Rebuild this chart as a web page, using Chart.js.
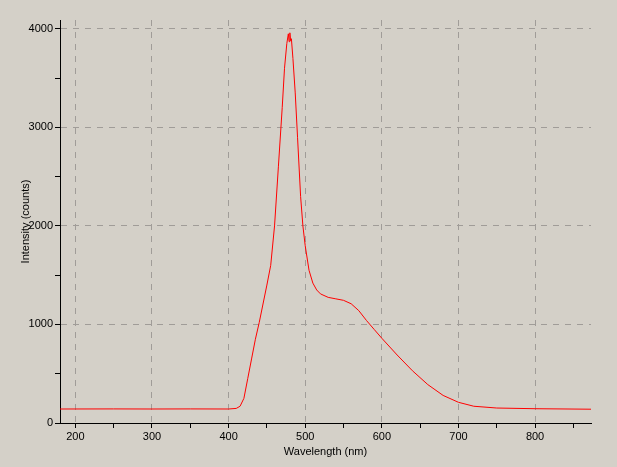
<!DOCTYPE html>
<html>
<head>
<meta charset="utf-8">
<script src="https://cdn.jsdelivr.net/npm/chart.js@4"></script>
<style>
	body { margin: 0; background: #d4d0c8; }
	canvas { display: block; }
</style>
</head>
<body>
<canvas id="c" width="617" height="467"></canvas>
<script>
const wavelengths = [180, 250, 300, 350, 400, 410, 415, 420, 425, 430, 435, 440, 450, 455, 460, 465, 470, 473, 476, 478, 479, 480, 481, 482, 484, 487, 490, 494, 497, 500, 505, 510, 515, 520, 530, 540, 550, 560, 570, 580, 590, 600, 620, 640, 660, 680, 700, 720, 750, 800, 873];
const intensity = [142, 143, 142, 143, 142, 148, 170, 250, 450, 650, 850, 1020, 1400, 1600, 2000, 2600, 3200, 3600, 3850, 3950, 3870, 3960, 3880, 3900, 3700, 3350, 2900, 2300, 2000, 1800, 1550, 1420, 1350, 1310, 1275, 1260, 1245, 1210, 1140, 1040, 950, 860, 690, 530, 390, 280, 210, 170, 152, 145, 140];

const font = { family: "Liberation Sans", size: 11 };
const gridColor = (step) => (ctx) =>
	ctx.tick && ctx.tick.value % step === 0 ? "#a09c98" : "rgba(0,0,0,0)";
// minor ticks on round multiples of the step, inside the axis range
const roundTicks = (step) => (scale) => {
	const ticks = [];
	for (let v = Math.ceil(scale.min / step) * step; v <= scale.max; v += step) ticks.push({ value: v });
	scale.ticks = ticks;
};

new Chart(document.getElementById("c"), {
	type: "line",
	data: {
		datasets: [{
			data: wavelengths.map((x, i) => ({ x, y: intensity[i] })),
			borderColor: "#ff0000",
			borderWidth: 1,
			pointRadius: 0,
			tension: 0,
		}],
	},
	options: {
		responsive: false,
		animation: false,
		layout: { padding: { top: 20, right: 26, left: 19, bottom: 8 } },
		plugins: { legend: { display: false }, tooltip: { enabled: false } },
		scales: {
			x: {
				type: "linear",
				min: 180,
				max: 873,
				afterBuildTicks: roundTicks(50),
				afterFit: (s) => { s.height = 36; },
				border: { color: "#000", width: 1, dash: [6, 6] },
				grid: { color: gridColor(100), tickColor: "#000", tickLength: 5 },
				ticks: {
					autoSkip: false,
					maxRotation: 0,
					color: "#000",
					font,
					padding: 2,
					callback: (v) => (v % 100 === 0 ? v : ""),
				},
				title: { display: true, text: "Wavelength (nm)", color: "#000", font, padding: { top: 0, bottom: 0 } },
			},
			y: {
				min: 0,
				max: 4090,
				afterBuildTicks: roundTicks(500),
				afterFit: (s) => { s.width = 41; },
				border: { color: "#000", width: 1, dash: [6, 6] },
				grid: { color: gridColor(1000), tickColor: "#000", tickLength: 5 },
				ticks: {
					autoSkip: false,
					color: "#000",
					font,
					padding: 2,
					callback: (v) => (v % 1000 === 0 ? v : ""),
				},
				title: { display: true, text: "Intensity (counts)", color: "#000", font, padding: { top: 0, bottom: 0 } },
			},
		},
	},
});
</script>
</body>
</html>
